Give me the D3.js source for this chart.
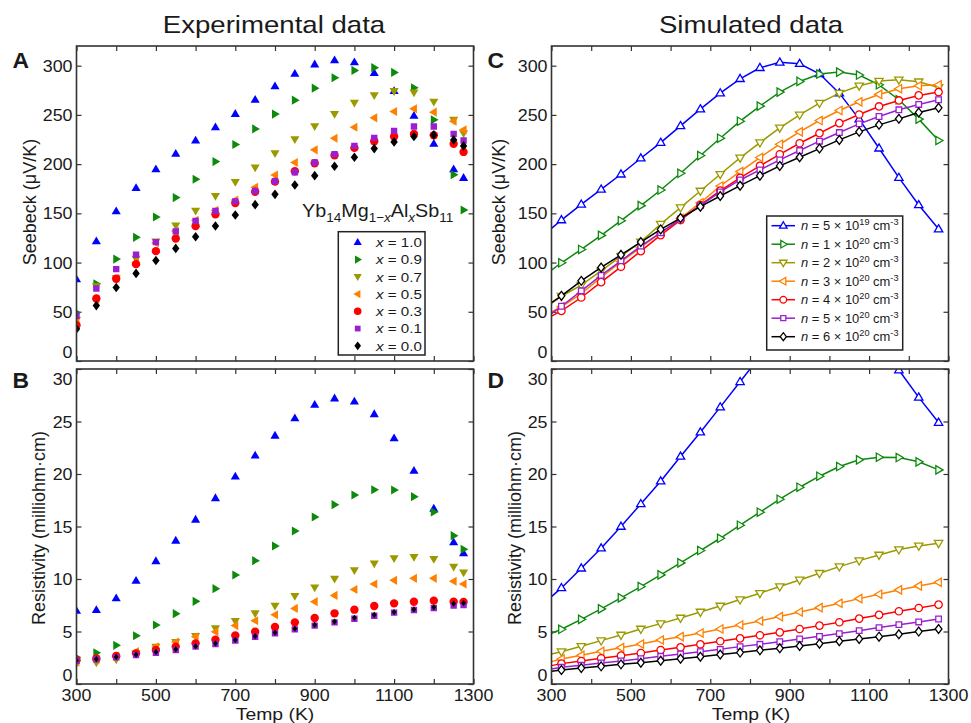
<!DOCTYPE html>
<html><head><meta charset="utf-8">
<script src="https://cdn.jsdelivr.net/npm/d3@7"></script>
<style>body{margin:0;background:#fff}svg{display:block;font-family:"Liberation Sans",Arial,Helvetica,sans-serif}</style>
</head><body><svg id="c" width="971" height="723"></svg>
<script>
// ---------- DATA ----------
const expT = [300,350,400,450,500,550,600,650,700,750,800,850,900,950,1000,1050,1100,1150,1200,1250,1275];
const simT = [300,325,375,425,475,525,575,625,675,725,775,825,875,925,975,1025,1075,1125,1175,1225,1275];

const expLabels = ["1.0","0.9","0.7","0.5","0.3","0.1","0.0"];
const simLabels = [["5","19"],["1","20"],["2","20"],["3","20"],["4","20"],["5","20"],["6","20"]];
const colors = ["#0000ff","#0c8a0c","#9a9a00","#ff8000","#ff0000","#9a1fd0","#000000"];
const shapes = ["up","right","down","left","circle","square","diamond"];

// Experimental Seebeck (µV/K)
const seebX10 = [83,121.5,152,175.8,194.8,210.4,224,237.5,251,265.4,279,291.8,301.3,305.4,303.4,292.5,274.2,249,220.6,194.8,186];
const seebX09 = [49.2,78.4,103.5,125.6,146.3,166,184.6,202.6,220,235.8,250.8,265,277.2,287.7,295.2,298,293.2,277.6,245,189.3,153.4];
const seebX07 = [42,76,84,104,121.5,137.8,152.7,167.6,181.9,196.5,211,225.3,238.5,251,262.3,270,274.2,272.8,263.3,245,231.4];
const seebX05 = [39.4,63,84,100,120,132,143,153,163.6,176.5,189,201.6,214.5,226.3,237.5,247,253.5,256.2,252.8,243.6,234.8];
const seebX03 = [36.3,63.5,83.5,98.4,111.6,124.5,137,149,160.5,172,182.2,192.7,200.9,209,216.5,223.3,228,230.7,229.4,220.6,212.4];
const seebX01 = [46,73.6,93.3,108,120.8,131.7,142.2,152.4,162.2,172.7,182.6,191.7,201.6,210,218.5,226.7,233.8,238.2,238.2,230.7,224];
const seebX00 = [32.6,56.3,74.7,89,102.1,114.4,126.2,137.1,148.3,158.8,169.3,178.8,188.3,197.8,207,215.8,222.6,228,229.7,224.6,218.5];

// Experimental resistivity (milliohm·cm)
const resX10 = [6.98,7.05,8.16,9.84,11.7,13.65,15.65,17.7,19.75,21.75,23.65,25.3,26.6,27.2,26.9,25.7,23.4,20.3,16.7,13.5,12.45];
const resX09 = [2.54,2.98,3.68,4.6,5.62,6.7,7.87,9.08,10.38,11.75,13.14,14.57,15.9,17.08,18.0,18.5,18.48,17.84,16.38,14.13,12.83];
const resX07 = [1.97,2.06,2.35,2.9,3.55,4.0,4.57,5.3,6.0,6.73,7.46,8.38,9.2,10.03,10.83,11.49,11.97,12.1,11.9,11.17,10.63];
const resX05 = [2.1,2.3,2.67,3.08,3.55,4.0,4.5,4.98,5.56,6.03,6.6,7.2,7.84,8.44,9.0,9.52,9.87,10.06,10.06,9.78,9.52];
const resX03 = [2.29,2.44,2.67,2.92,3.24,3.56,3.87,4.22,4.63,4.98,5.43,5.87,6.29,6.73,7.08,7.43,7.68,7.84,7.94,7.84,7.81];
const resX01 = [2.22,2.35,2.54,2.76,2.98,3.24,3.56,3.81,4.13,4.5,4.83,5.2,5.56,5.87,6.22,6.5,6.8,7.05,7.24,7.46,7.52];
const resX00 = [2.25,2.38,2.58,2.8,3.05,3.3,3.6,3.87,4.2,4.55,4.9,5.27,5.62,5.95,6.3,6.58,6.85,7.1,7.3,7.65,7.72];

// Simulated Seebeck
const seebN1 = [134.7,143.2,159.1,174.4,189.7,206,221.9,238.9,255.9,272.1,286.7,297.9,303.4,302,291.8,272.1,245.7,216.1,186.3,158.5,134];
const seebN2 = [92.3,99.8,113.3,127.6,142.5,157.8,173.7,190.7,208.7,226.3,243.6,258.9,273.2,284,291.5,293.5,290.5,280.6,265.4,245.7,224];
const seebN3 = [58.4,65.8,77,91.6,106.5,121.1,139.1,155.8,172.7,189.7,206.3,221.9,236.9,250.1,262,272.1,279.6,284.4,285.7,283.7,277.9];
const seebN4 = [49.9,55,68.5,84.8,100.8,115.4,130.3,144.9,160.8,177.8,192.4,206.7,220.2,232.8,244.3,254.5,263.3,270.8,276.6,279.6,280.6];
const seebN5 = [45.5,50.9,64.5,80.1,95.7,111.6,127.9,143.2,158.5,173.1,186,198.2,210,221.2,231.4,241.6,250.4,258.6,264.7,269.8,273.2];
const seebN6 = [48.2,55.6,71.3,86.9,101.8,116.7,130.3,144.2,157.8,171.7,183.9,194.1,204.3,213.8,223.3,232.1,240.9,248.4,255.2,260.6,265.4];
const seebN7 = [59.4,66.2,81.4,95,107.9,120.8,133.7,145.2,156.8,167.6,178.1,188.3,198.2,207,215.8,224.6,232.8,239.9,246,252.5,257.2];

// Simulated resistivity
const resN1 = [8.32,9.15,11.02,12.93,15.0,17.15,19.31,21.67,23.98,26.37,28.78,31.2,33.3,35.0,36.0,36.1,35.2,32.9,29.9,27.3,24.9];
const resN2 = [4.83,5.21,6.16,7.15,8.2,9.28,10.39,11.53,12.71,13.88,15.12,16.36,17.6,18.74,19.79,20.71,21.35,21.6,21.57,21.16,20.39];
const resN3 = [2.86,3.08,3.59,4.13,4.67,5.24,5.75,6.29,6.86,7.43,8.04,8.64,9.28,9.91,10.55,11.18,11.75,12.29,12.8,13.15,13.41];
const resN4 = [2.13,2.38,2.73,3.11,3.46,3.81,4.19,4.51,4.86,5.24,5.62,6.0,6.42,6.86,7.27,7.69,8.13,8.55,8.96,9.34,9.69];
const resN5 = [1.75,1.94,2.19,2.45,2.7,2.95,3.24,3.49,3.78,4.07,4.35,4.64,4.92,5.24,5.56,5.88,6.23,6.58,6.93,7.24,7.56];
const resN6 = [1.43,1.59,1.78,2.0,2.19,2.41,2.64,2.86,3.08,3.3,3.56,3.78,4.03,4.29,4.54,4.8,5.08,5.37,5.65,5.91,6.19];
const resN7 = [1.21,1.33,1.52,1.68,1.87,2.03,2.22,2.41,2.6,2.8,2.99,3.21,3.4,3.62,3.84,4.07,4.29,4.51,4.73,4.99,5.24];

const xTicks = [300,400,500,600,700,800,900,1000,1100,1200,1300];
const xTickLabels = [300,500,700,900,1100,1300];
const seebTicks = [0,50,100,150,200,250,300];
const resTicks = [0,5,10,15,20,25,30];

// ---------- DRAW ----------
const svg = d3.select('#c');
const SX = 1.05;
const TXT = "#1a1a1a";

function htext(g, x, y, str, size, anchor, extra) {
  const t = g.append('text')
    .attr('transform', `translate(${x},${y}) scale(${(extra&&extra.sx)||SX},1)`)
    .attr('font-size', size).attr('text-anchor', anchor || 'start').attr('fill', TXT)
    .text(str);
  if (extra && extra.weight) t.attr('font-weight', extra.weight);
  return t;
}

function markerPath(type, s) {
  switch (type) {
    case 'up': return `M0,${-s}L${0.95*s},${0.62*s}L${-0.95*s},${0.62*s}Z`;
    case 'down': return `M0,${s}L${0.95*s},${-0.62*s}L${-0.95*s},${-0.62*s}Z`;
    case 'right': return `M${s},0L${-0.62*s},${-0.95*s}L${-0.62*s},${0.95*s}Z`;
    case 'left': return `M${-s},0L${0.62*s},${-0.95*s}L${0.62*s},${0.95*s}Z`;
    case 'circle': return `M${s},0A${s},${s} 0 1,1 ${-s},0A${s},${s} 0 1,1 ${s},0Z`;
    case 'square': return `M${-s},${-s}H${s}V${s}H${-s}Z`;
    case 'diamond': return `M0,${-1.3*s}L${s},0L0,${1.3*s}L${-s},0Z`;
  }
}
const filledSize = {up:4.8,right:4.8,down:4.8,left:4.8,circle:4.2,square:3.2,diamond:3.7};
const openSize = {up:4.4,right:4.4,down:4.4,left:4.4,circle:3.7,square:2.8,diamond:3.4};

const X0 = 76.5, X1 = 473.5, X2 = 551.5, X3 = 948.5;
const panels = {
  A:{l:X0,r:X1,t:46,b:361,ymax:320,ticks:seebTicks,xl:false},
  B:{l:X0,r:X1,t:369,b:684,ymax:30,ticks:resTicks,xl:true},
  C:{l:X2,r:X3,t:46,b:361,ymax:320,ticks:seebTicks,xl:false},
  D:{l:X2,r:X3,t:369,b:684,ymax:30,ticks:resTicks,xl:true}
};

function drawPanel(key) {
  const p = panels[key];
  const x = d3.scaleLinear().domain([300,1300]).range([p.l,p.r]);
  const y = d3.scaleLinear().domain([0,p.ymax]).range([p.b,p.t]);
  const g = svg.append('g');
  const id = 'clip' + key;
  svg.append('clipPath').attr('id', id).append('rect')
    .attr('x', p.l).attr('y', p.t).attr('width', p.r - p.l).attr('height', p.b - p.t);
  const tl = 5;
  const styleAx = a => { a.select('.domain').remove(); a.selectAll('line').attr('stroke','#333').attr('stroke-width',1.2); };
  g.append('g').attr('transform',`translate(0,${p.b})`).call(d3.axisBottom(x).tickValues(xTicks).tickSize(-tl).tickFormat('')).call(styleAx);
  g.append('g').attr('transform',`translate(0,${p.t})`).call(d3.axisTop(x).tickValues(xTicks).tickSize(-tl).tickFormat('')).call(styleAx);
  g.append('g').attr('transform',`translate(${p.l},0)`).call(d3.axisLeft(y).tickValues(p.ticks).tickSize(-tl).tickFormat('')).call(styleAx);
  g.append('g').attr('transform',`translate(${p.r},0)`).call(d3.axisRight(y).tickValues(p.ticks).tickSize(-tl).tickFormat('')).call(styleAx);
  p.ticks.forEach(v => {
    const yy = Math.max(p.t + 10, Math.min(p.b - 9.5, y(v)));
    htext(g, p.l - 4, yy + 6, String(v), 17, 'end');
  });
  if (p.xl) {
    xTickLabels.forEach(v => htext(g, x(v), 700.5, String(v), 17, 'middle'));
  }
  const data = g.append('g').attr('clip-path', `url(#${id})`);
  g.append('rect').attr('x',p.l).attr('y',p.t).attr('width',p.r-p.l).attr('height',p.b-p.t)
    .attr('fill','none').attr('stroke','#333').attr('stroke-width',1.6);
  return {x, y, data, g};
}

// Titles
htext(svg, 274, 33, 'Experimental data', 24, 'middle', {sx:1.15});
htext(svg, 751, 33, 'Simulated data', 24, 'middle', {sx:1.15});

// Panel letters
[['A',12.5,68.3],['B',12.5,388.3],['C',487.5,68.3],['D',487.5,388.3]].forEach(([t,x,y]) =>
  htext(svg, x, y, t, 22, 'start', {weight:'bold', sx:1.04}));

// Panel A
const pA = drawPanel('A');
[seebX10,seebX09,seebX07,seebX05,seebX03,seebX01,seebX00].forEach((s,i) => {
  pA.data.selectAll(null).data(s).enter().append('path')
    .attr('transform',(d,j)=>`translate(${pA.x(expT[j])},${pA.y(d)})`)
    .attr('d', markerPath(shapes[i], filledSize[shapes[i]])).attr('fill', colors[i]);
});
// Panel B
const pB = drawPanel('B');
[resX10,resX09,resX07,resX05,resX03,resX01,resX00].forEach((s,i) => {
  const sz = i === 6 ? 2.4 : filledSize[shapes[i]];
  pB.data.selectAll(null).data(s).enter().append('path')
    .attr('transform',(d,j)=>`translate(${pB.x(expT[j])},${pB.y(d)})`)
    .attr('d', markerPath(shapes[i], sz)).attr('fill', colors[i]);
});

function simSeries(P, arrs) {
  arrs.forEach((s,i) => {
    const line = d3.line().x((d,j)=>P.x(simT[j])).y(d=>P.y(d));
    P.data.append('path').attr('d', line(s)).attr('fill','none').attr('stroke',colors[i]).attr('stroke-width',1.5);
    P.data.selectAll(null).data(s.slice(1)).enter().append('path')
      .attr('transform',(d,j)=>`translate(${P.x(simT[j+1])},${P.y(d)})`)
      .attr('d', markerPath(shapes[i], openSize[shapes[i]]))
      .attr('fill','#fff').attr('stroke',colors[i]).attr('stroke-width',1.3);
  });
}
const pC = drawPanel('C');
simSeries(pC, [seebN1,seebN2,seebN3,seebN4,seebN5,seebN6,seebN7]);
const pD = drawPanel('D');
simSeries(pD, [resN1,resN2,resN3,resN4,resN5,resN6,resN7]);

// Axis labels
function vlabel(x, y, str) {
  svg.append('text').attr('transform',`translate(${x},${y}) rotate(-90)`)
    .attr('font-size',18).attr('text-anchor','middle').attr('fill',TXT).text(str);
}
vlabel(36, 202, 'Seebeck (μV/K)');
vlabel(44.5, 528, 'Resistivity (milliohm·cm)');
vlabel(505, 202, 'Seebeck (μV/K)');
vlabel(520.5, 528, 'Resistivity (milliohm·cm)');
htext(svg, 275, 719.5, 'Temp (K)', 17, 'middle', {sx:1.14});
htext(svg, 751, 719.5, 'Temp (K)', 17, 'middle', {sx:1.14});

// Formula in panel A
{
  const t = svg.append('text').attr('transform','translate(302,217) scale(1.04,1)')
    .attr('font-size',19).attr('fill',TXT);
  const parts = [["Yb",0],["14",1],["Mg",0],["1−",1],["x",2],["Al",0],["x",2],["Sb",0],["11",1]];
  let sub = false;
  parts.forEach(([s,k]) => {
    const ts = t.append('tspan').text(s);
    if (k >= 1 && !sub) { ts.attr('dy', 5).attr('font-size', 13); sub = true; }
    else if (k >= 1) { ts.attr('font-size', 13); }
    else if (k === 0 && sub) { ts.attr('dy', -5); sub = false; }
    if (k === 2) ts.attr('font-style','italic');
  });
}

// Legend A
{
  const lg = svg.append('g');
  lg.append('rect').attr('x',338.3).attr('y',231.7).attr('width',86.7).attr('height',123.3)
    .attr('fill','#fff').attr('stroke','#222').attr('stroke-width',1.5);
  expLabels.forEach((lab,i) => {
    const yy = 242.3 + i*17.25;
    lg.append('path').attr('transform',`translate(357.7,${yy})`)
      .attr('d', markerPath(shapes[i], filledSize[shapes[i]]*0.9)).attr('fill', colors[i]);
    const t = lg.append('text').attr('transform',`translate(376,${yy+4.8}) scale(1.12,1)`)
      .attr('font-size',13.5).attr('fill',TXT);
    t.append('tspan').attr('font-style','italic').text('x');
    t.append('tspan').text(' = ' + lab);
  });
}
// Legend C
{
  const lg = svg.append('g');
  lg.append('rect').attr('x',766.7).attr('y',216).attr('width',136).attr('height',134)
    .attr('fill','#fff').attr('stroke','#222').attr('stroke-width',1.5);
  simLabels.forEach((lab,i) => {
    const yy = 225.7 + i*18.5;
    lg.append('line').attr('x1',771.5).attr('x2',795).attr('y1',yy).attr('y2',yy)
      .attr('stroke',colors[i]).attr('stroke-width',1.5);
    lg.append('path').attr('transform',`translate(783.3,${yy})`)
      .attr('d', markerPath(shapes[i], openSize[shapes[i]]*0.9))
      .attr('fill','#fff').attr('stroke',colors[i]).attr('stroke-width',1.3);
    const t = lg.append('text').attr('transform',`translate(801,${yy+4.3}) scale(1.08,1)`)
      .attr('font-size',12).attr('fill',TXT);
    t.append('tspan').attr('font-style','italic').text('n');
    t.append('tspan').text(` = ${lab[0]} × 10`);
    t.append('tspan').attr('font-size',8.5).attr('dy',-5).text(lab[1]);
    t.append('tspan').attr('dy',5).text(' cm');
    t.append('tspan').attr('font-size',8.5).attr('dy',-5).text('-3');
  });
}
</script></body></html>
